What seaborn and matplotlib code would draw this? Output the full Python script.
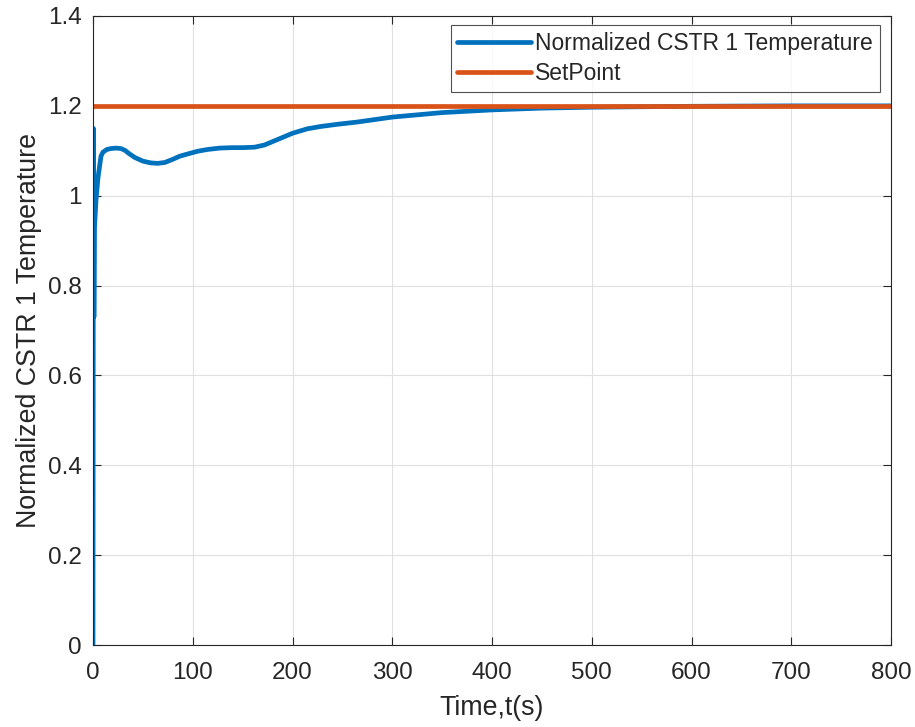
import numpy as np
import pandas as pd
import matplotlib
matplotlib.use("Agg")
import matplotlib.pyplot as plt
import seaborn as sns

# Data
time_s = [0, 0.4, 0.9, 1.5, 3, 5, 8, 10, 14, 18, 23, 28, 32, 36, 42, 50, 58, 65, 72, 80, 87, 95,
          105, 115, 127, 140, 150, 162, 172, 185, 200, 215, 228, 245, 265, 300, 350, 400, 450,
          500, 550, 600, 700, 800]
temp = [0.0, 1.15, 0.73, 0.93, 0.99, 1.04, 1.088, 1.097, 1.103, 1.105, 1.106, 1.105, 1.101, 1.094,
        1.085, 1.077, 1.073, 1.072, 1.074, 1.081, 1.088, 1.093, 1.099, 1.103, 1.106, 1.107, 1.107,
        1.108, 1.113, 1.125, 1.139, 1.149, 1.154, 1.159, 1.164, 1.175, 1.185, 1.191, 1.195,
        1.197, 1.198, 1.199, 1.2, 1.2]
sp_time = [0, 800]
sp_val = [1.2, 1.2]

sns.set_style("white")
plt.rcParams['font.family'] = ['Liberation Sans', 'DejaVu Sans']

fig = plt.figure(figsize=(9.15, 7.27), dpi=100)
ax = fig.add_axes([93/915, 1 - 645/727, (891-93)/915, (645-16)/727])

df1 = pd.DataFrame({"t": time_s, "y": temp})
df2 = pd.DataFrame({"t": sp_time, "y": sp_val})
sns.lineplot(data=df1, x="t", y="y", ax=ax, color="#0072BD", lw=3.4,
             label="Normalized CSTR 1 Temperature", sort=False, estimator=None)
sns.lineplot(data=df2, x="t", y="y", ax=ax, color="#D95319", lw=3.4,
             label="SetPoint", sort=False, estimator=None)
for ln in ax.lines:
    ln.set_solid_joinstyle("round")

ax.set_xlim(0, 800)
ax.set_ylim(0, 1.4)
ax.set_xticks(np.arange(0, 801, 100))
ax.set_yticks(np.arange(0, 1.41, 0.2))
ax.set_yticklabels(["0", "0.2", "0.4", "0.6", "0.8", "1", "1.2", "1.4"])
ax.grid(True, color="#E0E0E0", lw=0.8)
ax.set_axisbelow(True)
for s in ax.spines.values():
    s.set_color("#262626")
    s.set_linewidth(0.8)
ax.tick_params(direction="in", length=6, width=0.8, colors="#262626", labelsize=17.5,
               top=True, right=True, bottom=True, left=True, labelcolor="#262626")
ax.tick_params(axis="x", pad=12)
ax.tick_params(axis="y", pad=8)
ax.set_xlabel("Time,t(s)", fontsize=19.3, color="#262626", labelpad=8)
ax.set_ylabel("Normalized CSTR 1 Temperature", fontsize=19.3, color="#262626", labelpad=4)

leg = ax.legend(loc="upper right", fontsize=16.5, frameon=True, fancybox=False,
                edgecolor="#262626", handlelength=3.2, borderpad=0.3, labelspacing=0.3,
                handletextpad=0.2, borderaxespad=0.0,
                bbox_to_anchor=((880-93)/798, (645-25)/629))
leg.get_frame().set_linewidth(0.8)

fig.savefig("out.png", dpi=100)
